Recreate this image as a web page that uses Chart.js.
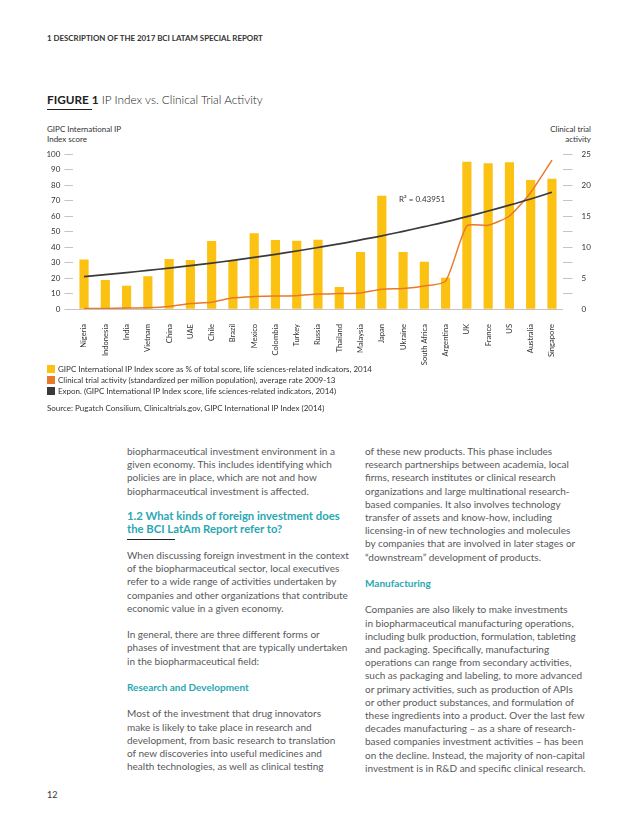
<!DOCTYPE html>
<html>
<head>
<meta charset="utf-8">
<script src="https://cdn.jsdelivr.net/npm/chart.js@4.4.0/dist/chart.umd.min.js"></script>
<style>
  html, body { margin: 0; padding: 0; background: #fff; }
  body { width: 638px; height: 826px; position: relative; overflow: hidden; font-family: Lato, "Open Sans", sans-serif; color: #58595b; }
  .abs { position: absolute; white-space: nowrap; }
  .header { left: 47px; top: 33px; font-size: 7.9px; font-weight: 700; color: #333; }
  .fig { left: 47px; top: 92px; font-size: 11.8px; font-weight: 300; color: #222; }
  .fig b { font-weight: 700; }
  .rule { position: absolute; height: 1px; background: #222; }
  .axt { font-size: 8px; line-height: 10px; color: #333; }
  .legend { left: 47px; top: 364px; font-size: 8px; line-height: 11px; color: #333; }
  .legend span.box { display: inline-block; width: 8px; height: 8px; margin-right: 3px; vertical-align: -1px; }
  .source { left: 47px; top: 403px; font-size: 8px; color: #333; }
  .col { font-size: 10px; line-height: 13.2px; }
  .teal { color: #2aa7b2; }
  .h2 { font-size: 11.3px; line-height: 13px; font-weight: 700; }
  .sub { font-weight: 700; }
  #chartWrap { position: absolute; left: 30px; top: 115px; width: 600px; height: 262px; }
</style>
</head>
<body>
<div class="abs header">1 DESCRIPTION OF THE 2017 BCI LATAM SPECIAL REPORT</div>
<div class="abs fig"><b>FIGURE 1</b> IP Index vs. Clinical Trial Activity</div>
<div class="rule" style="left:47px; top:109px; width:45px;"></div>

<div class="abs axt" style="left:47px; top:124px;">GIPC International IP<br>Index score</div>
<div class="abs axt" style="right:47px; top:124px; text-align:right;">Clinical trial<br>activity</div>

<div id="chartWrap"><canvas id="chart" width="600" height="262"></canvas></div>
<div class="abs axt" style="left:399px; top:194px;">R² = 0.43951</div>

<div class="abs legend" id="legend"></div>
<div class="abs source">Source: Pugatch Consilium, Clinicaltrials.gov, GIPC International IP Index (2014)</div>

<div class="abs col" style="left:127px; top:445px;">biopharmaceutical investment environment in a<br>given economy. This includes identifying which<br>policies are in place, which are not and how<br>biopharmaceutical investment is affected.</div>
<div class="abs h2 teal" style="left:127px; top:509px;">1.2 What kinds of foreign investment does<br>the BCI LatAm Report refer to?</div>
<div class="rule" style="left:127px; top:539px; width:48px;"></div>
<div class="abs col" style="left:127px; top:549px;">When discussing foreign investment in the context<br>of the biopharmaceutical sector, local executives<br>refer to a wide range of activities undertaken by<br>companies and other organizations that contribute<br>economic value in a given economy.<br><br>In general, there are three different forms or<br>phases of investment that are typically undertaken<br>in the biopharmaceutical field:<br><br><span class="teal sub">Research and Development</span><br><br>Most of the investment that drug innovators<br>make is likely to take place in research and<br>development, from basic research to translation<br>of new discoveries into useful medicines and<br>health technologies, as well as clinical testing</div>

<div class="abs col" style="left:365px; top:445px;">of these new products. This phase includes<br>research partnerships between academia, local<br>firms, research institutes or clinical research<br>organizations and large multinational research-<br>based companies. It also involves technology<br>transfer of assets and know-how, including<br>licensing-in of new technologies and molecules<br>by companies that are involved in later stages or<br>“downstream” development of products.<br><br><span class="teal sub">Manufacturing</span><br><br>Companies are also likely to make investments<br>in biopharmaceutical manufacturing operations,<br>including bulk production, formulation, tableting<br>and packaging. Specifically, manufacturing<br>operations can range from secondary activities,<br>such as packaging and labeling, to more advanced<br>or primary activities, such as production of APIs<br>or other product substances, and formulation of<br>these ingredients into a product. Over the last few<br>decades manufacturing – as a share of research-<br>based companies investment activities – has been<br>on the decline. Instead, the majority of non-capital<br>investment is in R&amp;D and specific clinical research.</div>

<div class="abs" style="left:47px; top:789px; font-size:9px; color:#333;">12</div>

<script>
// Data
const countries = ['Nigeria', 'Indonesia', 'India', 'Vietnam', 'China', 'UAE', 'Chile', 'Brazil',
  'Mexico', 'Colombia', 'Turkey', 'Russia', 'Thailand', 'Malaysia', 'Japan', 'Ukraine',
  'South Africa', 'Argentina', 'UK', 'France', 'US', 'Australia', 'Singapore'];

const ipScore = [31.8, 18.5, 14.8, 20.9, 32.0, 31.4, 43.7, 31.2, 48.6, 44.3, 43.9, 44.5,
  14.0, 36.6, 72.9, 36.6, 30.3, 20.0, 94.8, 93.8, 94.4, 83.0, 83.9];

const trialActivity = [0.1, 0.1, 0.15, 0.2, 0.4, 0.9, 1.1, 1.8, 2.0, 2.1, 2.15, 2.4,
  2.5, 2.6, 3.2, 3.3, 3.7, 4.5, 13.4, 13.5, 15.0, 18.8, 24.0];

const expTrend = [20.9, 22.2, 23.5, 24.9, 26.4, 28.0, 29.6, 31.4, 33.3, 35.3, 37.4, 39.7,
  42.0, 44.6, 47.2, 50.1, 53.1, 56.2, 59.6, 63.2, 67.0, 71.0, 75.3];

const leftTicks  = { min: 0, max: 100, step: 10 };
const rightTicks = { min: 0, max: 25, step: 2.5, labelEvery: 5 };

const seriesLabels = [
  'GIPC International IP Index score as % of total score, life sciences-related indicators, 2014',
  'Clinical trial activity (standardized per million population), average rate 2009-13',
  'Expon. (GIPC International IP Index score, life sciences-related indicators, 2014)'
];
const seriesColors = ['#fbc113', '#e8792a', '#3a3a3a'];

// Legend
document.getElementById('legend').innerHTML = seriesLabels.map((l, i) =>
  `<div><span class="box" style="background:${seriesColors[i]}"></span>${l}</div>`).join('');

// Chart
const tickGrey = '#c4c4c4';
const tickFont = { family: 'Lato', size: 8 };

new Chart(document.getElementById('chart').getContext('2d'), {
  data: {
    labels: countries,
    datasets: [
      { type: 'bar', label: seriesLabels[0], data: ipScore, yAxisID: 'y',
        backgroundColor: seriesColors[0], barThickness: 8.5, order: 3 },
      { type: 'line', label: seriesLabels[1], data: trialActivity, yAxisID: 'y1',
        borderColor: seriesColors[1], borderWidth: 1.5, pointRadius: 0, tension: 0.2, order: 2 },
      { type: 'line', label: seriesLabels[2], data: expTrend, yAxisID: 'y',
        borderColor: seriesColors[2], borderWidth: 1.7, pointRadius: 0, tension: 0.4, order: 1 }
    ]
  },
  options: {
    responsive: false,
    animation: false,
    layout: { padding: { top: 39, left: 0, right: 0, bottom: 0 } },
    plugins: { legend: { display: false }, tooltip: { enabled: false } },
    scales: {
      x: {
        grid: { display: false },
        border: { display: true, color: tickGrey, width: 1 },
        ticks: { autoSkip: false, minRotation: 90, maxRotation: 90, padding: 7, color: '#333',
          font: { family: 'Lato', size: 7.6 } },
        afterFit: s => { s.height = 68; }
      },
      y: {
        position: 'left',
        min: leftTicks.min, max: leftTicks.max,
        border: { display: false },
        grid: { drawOnChartArea: false, drawTicks: true, tickLength: 9, color: tickGrey },
        ticks: { stepSize: leftTicks.step, padding: 4, color: '#333', font: tickFont },
        afterFit: s => { s.width = 43.4; }
      },
      y1: {
        position: 'right',
        min: rightTicks.min, max: rightTicks.max,
        border: { display: false },
        grid: { drawOnChartArea: false, drawTicks: true, tickLength: 10,
          color: c => (c.tick && c.tick.value === 0) ? 'rgba(0,0,0,0)' : tickGrey },
        ticks: { stepSize: rightTicks.step, padding: 9, color: '#333', font: tickFont,
          callback: v => (v % rightTicks.labelEvery === 0 ? v : '') },
        afterFit: s => { s.width = 67.4; }
      }
    }
  }
});
</script>
</body>
</html>
